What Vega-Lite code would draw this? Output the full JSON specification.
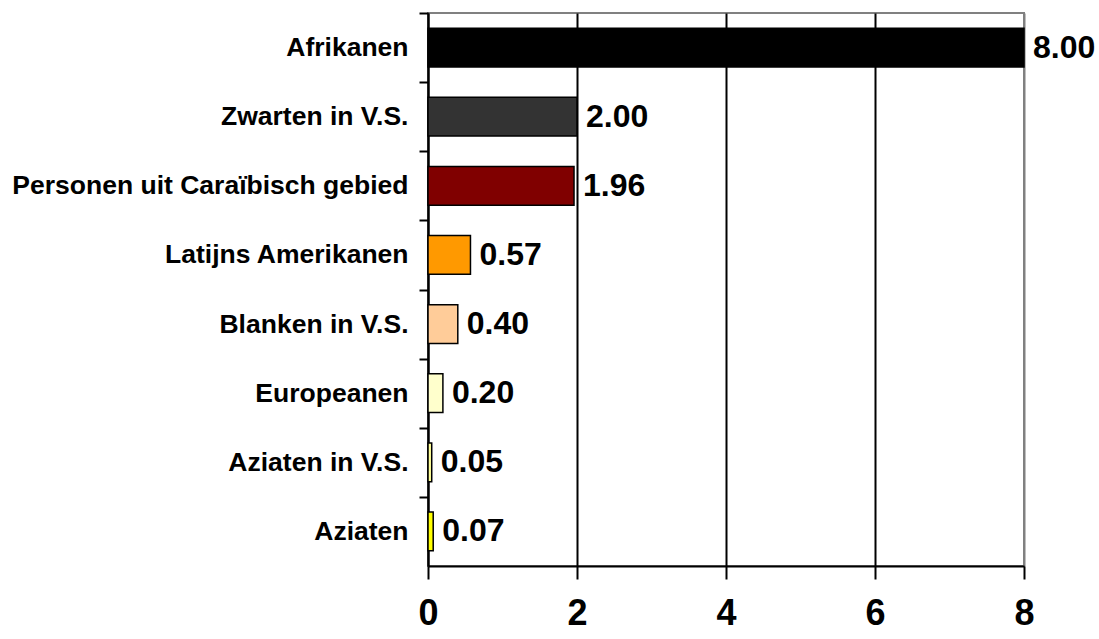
{
  "$schema": "https://vega.github.io/schema/vega-lite/v6.json",
  "width": 596,
  "height": 553,
  "autosize": {"type": "none"},
  "padding": {"left": 428, "top": 13, "right": 75, "bottom": 73},
  "background": "white",
  "config": {
    "view": {"stroke": "#808080", "strokeWidth": 2},
    "font": "Liberation Sans"
  },
  "data": {
    "values": [
      {"groep": "Afrikanen", "waarde": 8.00, "kleur": "#000000"},
      {"groep": "Zwarten in V.S.", "waarde": 2.00, "kleur": "#333333"},
      {"groep": "Personen uit Caraïbisch gebied", "waarde": 1.96, "kleur": "#800000"},
      {"groep": "Latijns Amerikanen", "waarde": 0.57, "kleur": "#FF9900"},
      {"groep": "Blanken in V.S.", "waarde": 0.40, "kleur": "#FFCC99"},
      {"groep": "Europeanen", "waarde": 0.20, "kleur": "#FFFFCC"},
      {"groep": "Aziaten in V.S.", "waarde": 0.05, "kleur": "#FFFF99"},
      {"groep": "Aziaten", "waarde": 0.07, "kleur": "#FFFF00"}
    ]
  },
  "encoding": {
    "y": {
      "field": "groep",
      "type": "nominal",
      "sort": null,
      "scale": {"paddingInner": 0.44, "paddingOuter": 0.22},
      "axis": {
        "title": null,
        "tickOffset": -34.56,
        "labelOffset": 34.56,
        "tickSize": 9,
        "tickWidth": 2,
        "tickColor": "black",
        "domainColor": "black",
        "domainWidth": 2,
        "labelFontSize": 26.5,
        "labelFontWeight": "bold",
        "labelColor": "black",
        "labelPadding": 11,
        "labelLimit": 500
      }
    },
    "x": {
      "field": "waarde",
      "type": "quantitative",
      "scale": {"domain": [0, 8], "nice": false},
      "axis": {
        "title": null,
        "values": [0, 2, 4, 6, 8],
        "tickSize": 13,
        "tickWidth": 2,
        "tickColor": "black",
        "domainColor": "black",
        "domainWidth": 2,
        "grid": true,
        "gridWidth": 2,
        "gridColor": {"condition": {"test": "datum.value == 8", "value": "#808080"}, "value": "black"},
        "gridOpacity": 1,
        "labelFontSize": 36,
        "labelFontWeight": "bold",
        "labelColor": "black",
        "labelPadding": 17,
        "labelFlush": false
      }
    }
  },
  "layer": [
    {
      "mark": {"type": "bar", "stroke": "black", "strokeWidth": 1.5},
      "encoding": {
        "color": {"field": "kleur", "type": "nominal", "scale": null, "legend": null}
      }
    },
    {
      "mark": {"type": "text", "align": "left", "baseline": "middle", "dx": 9, "fontSize": 32, "fontWeight": "bold", "color": "black"},
      "encoding": {
        "text": {"field": "waarde", "type": "quantitative", "format": ".2f"}
      }
    }
  ]
}
